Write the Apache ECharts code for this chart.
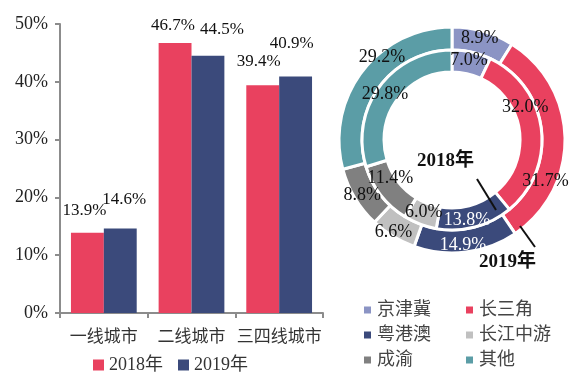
<!DOCTYPE html>
<html>
<head>
<meta charset="utf-8">
<script src="https://cdn.jsdelivr.net/npm/echarts@6/dist/echarts.min.js"></script>
<style>
html,body{margin:0;padding:0;background:#fff;}
#main{width:582px;height:385px;}
</style>
</head>
<body>
<div id="main"></div>
<script>
// ---- data ----
var cityTiers = ['一线城市', '二线城市', '三四线城市'];
var years = ['2018年', '2019年'];
var tier2018 = [13.9, 46.7, 39.4];
var tier2019 = [14.6, 44.5, 40.9];
var yTicks = [0, 10, 20, 30, 40, 50];

var regions = ['京津冀', '长三角', '粤港澳', '长江中游', '成渝', '其他'];
var region2018 = [7.0, 32.0, 13.8, 6.0, 11.4, 29.8];
var region2019 = [8.9, 31.7, 14.9, 6.6, 8.8, 29.2];

// ---- styles ----
var RED = '#E9415F', NAVY = '#3B4A7B';
var regionColors = ['#8B94C4', '#E9415F', '#3B4A7B', '#C0C0C0', '#808080', '#5B9DA6'];
var regionLabelColors = ['#111', '#111', '#fff', '#111', '#111', '#111'];
var SERIF = '"Times New Roman","Liberation Serif","Noto Sans CJK SC",serif';
// manual label nudges (Excel-like placement), in pixels
var off2018 = [[-3, -9], [-2, -4], [-4, -10]];
var off2019 = [[4, -16], [14, -13], [-4, -20]];
var pieNudge2019 = [[-1, -1], [-11, 43], [-2, 2], [-4, 3], [0, 2], [13, -19]];
var pieNudge2018 = [[-1, 0], [-8, -22], [-6, 1], [1, -4], [3, -12], [-1, 3]];

function barData(vals, offs) {
  return vals.map(function (v, i) {
    return { value: v, label: { offset: offs[i] } };
  });
}
function pieData(vals) {
  return vals.map(function (v, i) {
    return {
      name: regions[i], value: v,
      itemStyle: { color: regionColors[i] },
      label: { color: regionLabelColors[i] }
    };
  });
}
function nudger(n) {
  return function (p) { return { dx: n[p.dataIndex][0], dy: n[p.dataIndex][1], hideOverlap: false }; };
}

var chart = echarts.init(document.getElementById('main'), null, { renderer: 'canvas' });
var pieLabel = {
  show: true, position: 'inside',
  fontFamily: SERIF, fontSize: 18,
  formatter: function (p) { return p.value.toFixed(1) + '%'; }
};
var barLabel = {
  show: true, position: 'top', fontFamily: SERIF, fontSize: 17, color: '#111',
  formatter: function (p) { return p.value.toFixed(1) + '%'; }
};

chart.setOption({
  animation: false,
  backgroundColor: '#fff',
  textStyle: { fontFamily: SERIF },
  grid: { left: 60, top: 24, width: 263, height: 289 },
  legend: [
    {
      data: years, left: 93, top: 356, padding: 0, itemWidth: 11, itemHeight: 11, itemGap: 15,
      icon: 'rect', textStyle: { fontFamily: SERIF, fontSize: 18, color: '#333' }
    },
    {
      data: ['京津冀', '粤港澳', '成渝'], orient: 'vertical', left: 362, top: 301, padding: 0,
      itemWidth: 9, itemHeight: 9, itemGap: 7, icon: 'rect',
      textStyle: { fontFamily: SERIF, fontSize: 18, lineHeight: 18, color: '#444' }
    },
    {
      data: ['长三角', '长江中游', '其他'], orient: 'vertical', left: 464, top: 301, padding: 0,
      itemWidth: 9, itemHeight: 9, itemGap: 7, icon: 'rect',
      textStyle: { fontFamily: SERIF, fontSize: 18, lineHeight: 18, color: '#444' }
    }
  ],
  xAxis: {
    type: 'category', data: cityTiers,
    axisLine: { lineStyle: { color: '#8c8c8c', width: 2 } },
    axisTick: { show: true, length: 5, lineStyle: { color: '#8c8c8c', width: 2 } },
    axisLabel: { interval: 0, fontFamily: SERIF, fontSize: 17, color: '#333', margin: 16 }
  },
  yAxis: {
    type: 'value', min: yTicks[0], max: yTicks[yTicks.length - 1], interval: 10,
    axisLine: { show: true, lineStyle: { color: '#8c8c8c', width: 2 } },
    axisTick: { show: true, length: 5, lineStyle: { color: '#8c8c8c', width: 2 } },
    splitLine: { show: false },
    axisLabel: { fontFamily: SERIF, fontSize: 18, color: '#222', margin: 12, formatter: '{value}%' }
  },
  series: [
    {
      name: years[0], type: 'bar', data: barData(tier2018, off2018),
      itemStyle: { color: RED }, barGap: '0%', barCategoryGap: '25%', label: barLabel
    },
    {
      name: years[1], type: 'bar', data: barData(tier2019, off2019),
      itemStyle: { color: NAVY }, barGap: '0%', barCategoryGap: '25%', label: barLabel
    },
    {
      name: '2019', type: 'pie', center: [452, 140], radius: [90, 113],
      startAngle: 90, clockwise: true, sort: null, avoidLabelOverlap: false,
      itemStyle: { borderColor: '#fff', borderWidth: 3 },
      label: pieLabel, labelLine: { show: false }, emphasis: { disabled: true },
      labelLayout: nudger(pieNudge2019),
      data: pieData(region2019)
    },
    {
      name: '2018', type: 'pie', center: [452, 140], radius: [68, 90],
      startAngle: 90, clockwise: true, sort: null, avoidLabelOverlap: false,
      itemStyle: { borderColor: '#fff', borderWidth: 3 },
      label: pieLabel, labelLine: { show: false }, emphasis: { disabled: true },
      labelLayout: nudger(pieNudge2018),
      data: pieData(region2018)
    }
  ],
  graphic: [
    { type: 'text', left: 417, top: 152, z: 100, style: { text: '2018年', font: 'bold 19px ' + SERIF, fill: '#111' } },
    { type: 'text', left: 479, top: 253, z: 100, style: { text: '2019年', font: 'bold 19px ' + SERIF, fill: '#111' } },
    { type: 'line', z: 100, shape: { x1: 477, y1: 179, x2: 496, y2: 210 }, style: { stroke: '#111', lineWidth: 2 } },
    { type: 'line', z: 100, shape: { x1: 520, y1: 226, x2: 535, y2: 247 }, style: { stroke: '#111', lineWidth: 2 } }
  ]
});
</script>
</body>
</html>
